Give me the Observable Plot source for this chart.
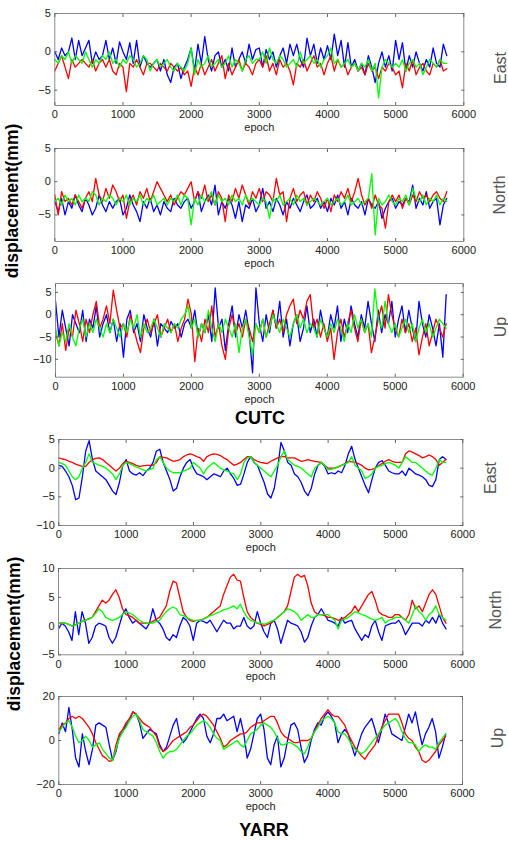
<!DOCTYPE html>
<html><head><meta charset="utf-8">
<script src="https://cdn.jsdelivr.net/npm/d3@7"></script>
<script src="https://cdn.jsdelivr.net/npm/@observablehq/plot@0.6"></script>
<style>
html,body{margin:0;padding:0;background:#fff;}
#root{position:relative;width:508px;height:841px;overflow:hidden;font-family:"Liberation Sans",Arial,sans-serif;}
#root svg{position:absolute;left:0;}
</style></head><body><div id="root"></div>
<script>
// sampling step of all series (epochs): value i is at epoch i*STEP
const STEP = 50;
const xTicks = [0,1000,2000,3000,4000,5000,6000];
const colors = {blue:"#0000ff", red:"#ff0000", green:"#00ff00"};

// ---------- CUTC East ----------
const cutcEastBlue = [
0,-1,0.5,-0.5,0,1.8,-1,1.5,-0.5,0.5,1.5,-1.5,0,-1,-0.5,1.5,-1,0.5,-1.5,1.3,
0,-1,1.2,-1.5,1.5,-2,-0.5,-1.5,-2,-1.5,-1,-2.5,-1,-3,-4,-2,-1.5,-3.5,-2,-1,
0.5,-2.5,1,-1.5,2,-1,-2.5,-0.5,0,-2,-1,-2.5,0.5,-2,-1,0,-1.5,1,-1,0.3,
0.5,-2,0.3,-1,0,-2,-0.5,0.5,-1.5,1,-0.5,1,-1,-2,1.8,-0.5,1,-1.5,0.5,-1,
0.8,-1,2.3,-0.5,1.5,-2,1.2,-2,-1,-2.5,-1.5,-3,-0.5,-2,-4,-1.5,0,-2,-0.5,-2.5,
1.5,-1,1.2,-2.5,-0.5,-2,0,-1.5,-2.5,-1,-2,0.5,-1.5,-2,1,-0.5];
const cutcEastRed = [
-2.5,-1.5,-0.5,-2,-3.5,-1,-2,-1.5,-1,-1.5,-2,-1,-2.5,-1.5,-1,-2,-1,-2.5,-3,-1.5,
-2,-5.2,-1.5,-2,-1,-2,-3,-1.5,-1.5,-2,-2.5,-1.5,-2,-2.5,-1.5,-2,-2.5,-2,-3,-2.5,
-4.5,-2,-3,-1.5,-3,-2,-1,-2.5,-1.5,-0.5,-3.5,-1.5,-3,-2,-1,-2.5,-1.5,-2,-3,-1.5,
-1,-2,-0.5,-2.5,-1.5,-3,-1,-2,-1.5,-2.5,-4.3,-1.5,-2,-1,-2.5,-1.5,-0.5,-2,-1.5,-3,
-1.5,-0.5,-2.5,-1,-2,-1.5,-3,-2,-1.5,-2.5,-2,-3,-1.5,-2.5,-2,-3.5,-2,-2.5,-1.5,-2,
-3,-2.5,-4.7,-1.5,-2.5,-1,-3,-2,-1.5,-2.5,-3,-1.5,-2,-1,-2.5,-2.2];
const cutcEastGreen = [
-1,-1.5,-0.5,-1,0,-1.5,-0.5,-1,-1.5,0,-1,-2,-1,-1.5,-0.5,-1,0,-1.5,-1,-2,
-1,-1.5,-0.5,-1,-2,-1.5,-0.5,-1,-2.5,-1.5,-1,-2,-1.5,-1,-2,-2.5,-1.5,-2,-2.5,-1.5,
0.5,-3,-1,-2,-1.5,-0.5,-2,-1.5,-1,-2,-1.5,-0.5,-2,-1,-1.5,-2.5,-1,-0.5,-1.5,-1,
-1,0,-1.5,0.5,-1,-1.5,-0.5,-1,-2,-1.5,-1,-2,0,-1.5,-1,-0.5,-1.5,-1,-2,-1,
-0.5,0.5,-1.5,-1,-2,-1.5,-1,-2,-1.5,-2.5,-1.5,-2,-1,-2.5,-1.5,-6,-2,-1,-1.5,-2,
-1.5,-2,-1,-2.5,-1.5,-1,-2,-1.5,-3,-2,-1,-1.5,-2,-1,-1.5,-1.5];

// ---------- CUTC North ----------
const cutcNorthBlue = [
-3,-4.5,-2.5,-5,-3,-4,-2,-3.5,-4.5,-2.5,-3.5,-5,-4,-2,-3.5,-4.5,-3,-4,-3,-2.5,
-5,-4,-2,-3.5,-4.5,-6,-3,-4,-2.5,-4.5,-3.5,-5,-3,-4,-4.5,-2.5,-3.5,-4,-3,-2.5,
-4,-3,-1.5,-4.5,-3,-2,-3.5,-0.5,-5,-3,-4,-2.5,-3.5,-5.5,-3,-6,-3.5,-4,-2.5,-4.5,
-3.5,-1,-4,-3,-4.5,-2.5,-3.5,-5,-3,-4,-2.5,-3.5,-4.5,-3,-2,-4,-3.5,-2.5,-4,-3,
-4.5,-2.5,-3.5,-2,-4,-3,-5,-2.5,-3.5,-4,-3,-5,-2.5,-3.5,-4,-3,-5.5,-4,-3,-2.5,
-4,-3,-3.5,-2.5,-3,-0.5,-4,-2.5,-3.5,-1.5,-4,-3,-2.5,-6.5,-3.5,-2.5];
const cutcNorthRed = [
-2,-5,-1.5,-3,-2.5,-3.5,-2,-3,-4,-2.5,-1.5,-3,0.5,-2,-3,-1,-2.5,-0.5,-1.5,-3,
-2,-5.5,-3,-2,-3.5,-1.5,-2.5,-1,-3,-1.5,0,-1,-2,-3,-2,-3.5,-2.5,-1.5,-2,-1,
0,-3,-1.5,-2.5,-0.5,-3,-2,-3.5,-1.5,-2.5,-6,-2,-3,-1,-2.5,-0.5,-2,-3.5,-1.5,-2.5,
-1,-3,-1.5,-2,-3,0.5,-2,-1.5,-6,-2.5,-1,-3,-2,-1.5,-3.5,-2,-3,-1.5,-2.5,-4,
-2.5,-4.5,-2,-3,-1.5,-2.5,-1,-3,-1.5,0.5,-2,-3.5,-2.5,-4,-2,-3.5,-4,-7,-3,-2,
-3,-2,-4,-2.5,-3.5,-2,-3,-1.5,-2.5,-2,-3,-2,-1.5,-2.5,-3,-1.5];
const cutcNorthGreen = [
-3,-2.5,-3.5,-2,-3,-2.5,-3.5,-2,-3,-2.5,-3,-1.5,-2,-3.5,-2.5,-3,-2,-2.5,-3.5,-2.5,
-3,-2,-3.5,-2.5,-3,-2,-3.5,-2.5,-3,-2,-3.5,-3,-2.5,-3.5,-2.5,-3,-2,-3.5,-2,-2.5,
-6.5,-2.5,-3.5,-2,-3,-2.5,-1.5,-3.5,-2,-3,-2.5,-3.5,-2,-3,-2.5,-3.5,-2,-3,-2.5,-3,
-3.5,-2.5,-3,-5.5,-2.5,-3,-2,-3.5,-3,-2.5,-3.5,-2,-3,-2.5,-3.5,-3,-2.5,-3,-3.5,-3,
-2.5,-3.5,-3,-2.5,-3.5,-3,-2,-3.5,-3,-2.5,-3.5,-3,-2.5,1.2,-8,-2.5,-3.5,-3,-2,-3,
-3.5,-2.5,-3,-2,-3.5,-1,-2.5,-3,-2,-3.5,-2.5,-3,-2,-3.5,-2.5,-3];

// ---------- CUTC Up ----------
const cutcUpBlue = [
3,-5,1,-3,-7,0,-2,-4,1,-6,-1,-3,2,-5,-2,0,-4,-1,-6,-2,
-9.5,-1,1,-4,-2,-6,0,-3,-5,-1,-7,-2,-3,-4,-1.5,-3,-2,-5,-2,-1,
-3,1,-5,-2,-4,0,-6,6,-3,-1,-8,-2,2,-5,0,-3,1,-4,-13,6,
-2,-6,0,-4,1,-3,3,-5,-1,-7,-2,0,-6,-3,2,-4,-1,-5,1,-3,
-5,0,-3,2,-6,-1,-4,2,-2,-5,0,-3,3,-2,-6,1,-4,0,-2,3,
-5,-1,2,-4,1,-3,-6,3,-2,-5,0,-3,-7,-2,-9.5,4.5];
const cutcUpRed = [
-4,-7,-2,-8,-3,-5,1,-2,-6,-1,-4,0,3,-3,-1,2,-2,5.5,1,-3,
-2,-5,0,-3,-6,-8.5,-3,-1,-4,-2,0,-5,-3,-1,-4,-2,-6,-3,-1,3.5,
0,-10.5,-3,-6,-1,-4,2,-5,-2,-7,-10,-3,0,-4,-2,-5,-1,-3,-6,-2,
-4,-1,-5,-2,1,-3,-1,-4,0,2,3.5,-2,1,-1,3,4.5,-3,-1,-5,-2,
-6,-3,-10,-4,-1,-5,-2,1,-3,-6,-1,-4,-2,-8.5,-5,-1,2,-3,4.5,0,
-3,-5,-1,-4,-2,-6,-3,-9,-5,-2,-7,-4,-1,-3,-5,-2];
const cutcUpGreen = [
-3,-7,-4,-6,-2,-5,-7,-3,-1,-5,-2,-4,-1,-3,-5,-2,-4,-1,-3,-5,
-2,-4,-1,-3,0,-5,-2,-4,-3,-1,-3,-5,-2,-3,-4,-2,-3,-1,0,2,
-3,-1,-5,-2,-4,1,-3,-6,-2,-4,-1,-3,-5,-2,-8.5,-3,-1,-5,-9,-2,
-4,-1,-5,-3,0,-2,-4,-1,-3,-5,-2,0,-3,-1,-4,-2,-3,-5,-1,-3,
-5,-2,-4,-1,-3,-6,-2,-4,0,-3,-1,-4,-2,-5,5.8,-1,-3,3,-2,-4,
-2,-5,-3,-1,-4,-2,-6,-3,-1,-4,-2,-5,-3,-1,-2,-3];

// ---------- YARR East ----------
const yarrEastBlue = [
0.5,0.3,-0.5,-1.5,-3,-5.5,-5.2,-1.5,3,4.8,1.5,-0.5,-1,-1.5,-2,-3,-4,-4.6,-2.5,0.5,
1.5,-0.5,-1,-1.2,-0.8,-1.3,-0.5,0,1,3,3.3,1,-0.5,-2,-4,-3.5,-1.5,0,1,1.5,
0,-1,-1.2,-1.5,-2,-1.5,-1,-1.2,-1.5,-0.5,0,-1,-1.8,-3,-2.8,-1,1,2,1,0.5,
-1,-2.5,-4.5,-5.2,-3.5,0,4.5,3,1,0.5,-1,-1.5,-2.5,-4,-4.8,-3.5,-1,0.5,1,0.3,
-1,-0.8,-1,-0.5,-0.8,0.5,2.5,3.8,1.5,0,-1.5,-3,-4.3,-2,0,1,1.3,0.5,-0.5,-0.8,
-1,-1,-0.5,-1.3,0,-0.5,-1,-1.2,-1.5,-2,-3,-3.2,-2,1.5,2,1.5];
const yarrEastRed = [
1.8,1.6,1.5,1.2,1,0.7,0.5,0.3,0.3,1,1.5,1.7,1.8,1.5,1,0.5,0,-0.5,0,0.8,
1.2,1,0.8,0.5,0.3,0.4,0.5,0.5,0.5,1,2,1.9,1.8,1.5,1.2,1.3,1.5,2,2.3,2.5,
2.3,2,1.8,1.2,2,2.3,2.5,2.4,2.2,1.8,1.5,1,0.5,0.7,1,1.5,2,2,1.5,1.2,
1,0.9,0.8,1.2,1.5,1.8,2,2,1.8,1.8,1.8,1.5,1.2,1.3,1.5,1.3,1.2,1.1,1,0.5,
0,0,0,0.2,0.5,0.8,1.2,1.1,1,0.8,0.5,0,-0.3,-0.2,0,0.4,0.8,1.2,1.5,1.2,
1,1,1,2.5,3,2.8,2.5,2.2,1.8,2,2.3,2,1.5,0.5,1,1.5];
const yarrEastGreen = [
1,0.8,0.5,-0.5,-1.5,-2,-1.5,0,1,2.5,1,0.8,0.5,0.3,0,-0.5,-1,-2,-1,0.5,
1,0.8,0.5,0.2,0,-0.3,-0.5,-0.2,0,1.5,2,1,0,-0.5,-0.8,-0.8,-0.8,-0.5,-0.3,0,
1,0.5,0,-1,0,0.5,1,0.5,0,-0.3,-0.5,-0.8,-1,-2,-1,1,1.8,2,1,0.5,
0,-0.5,-1,-1.5,-0.5,0.5,2,3,1.5,1,0.5,0.3,0,-0.5,-1,-1.5,0,0.5,1,0.5,
-0.3,-0.2,0,0.3,0.5,0.7,1,2,0.5,0,-0.5,-1.8,-1.5,-1,0,0.3,0.5,0.8,1,0.8,
0.5,0,1,2,1.5,1,1,0.5,0,-0.5,-1,-1.2,0,1.5,1,1];

// ---------- YARR North ----------
const yarrNorthBlue = [
-0.5,0.5,0,-1,-2.5,2.5,-1.5,2.5,0.5,-3,-2,0,0.5,0.3,0,-2,-3,-2,0,2,
3,1.5,0.5,1,0.5,0,-0.5,0.5,3,1,0.5,-0.5,-2,-2.5,-1.5,-2,0,1.5,1,0,
-2.5,0.5,1,0.8,0.5,1,0,-1,0,1,0.5,0.5,-0.5,0,0,1.5,0,-0.5,0,2.5,
0.5,-1,-2,0.5,1,-0.5,-3,-1,1,0.5,0.3,0,-1,-2.8,-2,0,1.5,2,3,2,
1,0.8,0.5,0,1.5,0.5,0.8,1,-0.5,-1.5,-2.5,-1.5,-2,0,1,-1,-2.5,0,0.3,0.5,
0.5,1,0,-1.5,-0.5,0.5,0.5,0.5,0,1,0.5,1.5,0.5,2,0.5,-0.5];
const yarrNorthRed = [
0.5,0.5,0.5,0.3,0,0.2,0.5,0.8,1,1.3,1.5,2.5,3.5,4.5,4,4.5,5.5,6.3,5,3,
2,1.8,1.5,1,0.5,0.5,0.5,0.5,0.8,1.2,1.5,2.5,3.5,6,7.8,7.5,5,2.5,1.5,1,
0.8,1,1,1.2,1.5,2,2.5,3,3.5,5.5,7,8.5,9,8,7.8,5,2.5,1.5,1,0.5,
0.3,0,0.3,0.5,1,1.5,2,2.5,3.5,6,8.5,9,8.5,8.8,7,4,2.5,2,2,1.8,
1.5,1.5,1.3,1,1.2,1.5,2,2.5,3.5,2.5,3.5,4.5,5.5,6,4.5,2.5,2,1.8,1.5,1.5,
2,2,1.5,1,2,4.5,3,3.5,2.5,4,5.5,6.3,5.5,3.5,1.5,0.5];
const yarrNorthGreen = [
0.5,0.5,0.5,0.3,0,0.2,0.5,0.8,1,1.2,1.5,2.2,3,2.5,1.5,1.2,1,1.2,1.5,2,
2.5,2.3,2,1.5,1,0.7,0.5,0.5,0.5,0.8,1,1.8,2.5,3,3.3,3,2,1.8,1.5,1.2,
1,1,1,1.2,1.5,1.8,2,2.3,2.5,2.8,3,3.2,3.5,3,3.8,2.5,1.5,1,0.8,0.5,
0.5,0.3,0.5,0.8,1,1.5,2,2.5,3,2.8,2.5,2,1,1.5,2,1.5,1.5,2,2,2,
2,1.5,1,-0.5,1,1.2,1.5,2,2.5,2.3,2,1.8,1.5,1.2,1,1.2,1.5,0.5,1,1.2,
1.5,1.5,1.5,1,0.5,2,3.5,2.5,2,1,2,2.5,3.5,2,1.5,1];

// ---------- YARR Up ----------
const yarrUpBlue = [
3,8,4,15,5,-8,-12,3,-5,-11,-4,7,8,7,6,-2,-9,-5,2,4,
7,9,13,12,8,1,3,5,4,3,-2,-5,-3,2,7,10,2,-1,1,4,
7,10,12,10,2,-1,3,10,10,12,9,10,11,4,10,3,-8,-4,3,10,
12,5,-8,-11,-2,2,-12,-8,0,7,8,5,-3,-10,-7,0,5,8,7,11,
13,11,8,-1,3,5,3,-2,-7,-2,3,6,8,10,5,-1,5,12,8,3,
2,1,0,6,12,8,13,5,-2,3,6,10,4,-8,-3,3];
const yarrUpRed = [
5,7,8,10,11,10,11,10,8,6,3,-1,-4,-7,-8,-9.5,-9,-2,3,5,
8,10,13,12,10,8,7,6,4,2,-3,-5,-4,-2,0,1,2,3,4,6,
7,9,11,12,11,9,7,4,1,-3,-2,0,1,2,3,3,4,6,7,8,
8,9,10,11,11,8,4,2,1,0,-1,-1,0,0,0,1,4,7,10,12,
14,12,11,11,9,7,3,0,-3,-5,-7,-8.5,-6,-4,-2,2,6,9,12,12,
12,12,8,3,1,0,-3,-5,-9,-10,-9,-7,-5,-2,0,2];
const yarrUpGreen = [
4,6,8,9,6,2,-1,0,2,0,-3,-2,-1,-4,-6,-8,-9,-4,1,4,
6,9,11,12,9,5,4,3,2,-1,-5,-8,-6,-5,-5,-4,-2,0,2,3,
5,7,8,9,8,6,3,1,0,-4,-3,-2,-1,0,-2,-3,0,3,4,5,
7,8,7,6,4,1,-2,-2,-1,-1,-2,-3,-5,-6,-3,1,4,6,9,10,
11,10,8,4,3,3,1,-2,-4,-5,-6,-5,-3,-1,1,3,5,7,8,9,
10,8,4,1,-1,-1,-2,-5,-3,-2,-3,-3,-4,-1,1,3];

const panels = [
  {top:13.3, bottom:105.3, left:54.3, right:463.3, domain:[-7,5],  yTicks:[-5,0,5],
   series:[[cutcEastBlue,"blue"],[cutcEastRed,"red"],[cutcEastGreen,"green"]]},
  {top:148.3, bottom:241.3, left:54.3, right:463.3, domain:[-9,5], yTicks:[-5,0,5],
   series:[[cutcNorthBlue,"blue"],[cutcNorthRed,"red"],[cutcNorthGreen,"green"]]},
  {top:283.3, bottom:377, left:55, right:462.7, domain:[-14,7], yTicks:[-10,-5,0,5],
   series:[[cutcUpBlue,"blue"],[cutcUpRed,"red"],[cutcUpGreen,"green"]]},
  {top:439, bottom:525, left:58.3, right:462.3, domain:[-10,5], yTicks:[-10,-5,0,5],
   series:[[yarrEastBlue,"blue"],[yarrEastRed,"red"],[yarrEastGreen,"green"]]},
  {top:567.7, bottom:654, left:58, right:462.3, domain:[-5,10], yTicks:[-5,0,5,10],
   series:[[yarrNorthBlue,"blue"],[yarrNorthRed,"red"],[yarrNorthGreen,"green"]]},
  {top:696, bottom:784, left:58.3, right:462, domain:[-20,20], yTicks:[-20,0,20],
   series:[[yarrUpBlue,"blue"],[yarrUpRed,"red"],[yarrUpGreen,"green"]]}
];

const root = document.getElementById("root");
const FONT = '"Liberation Sans", Arial, sans-serif';
const fmt = d3.format("d");

for (const p of panels) {
  const mt = 10, mb = 34;
  const chart = Plot.plot({
    width: 508,
    height: (p.bottom - p.top) + mt + mb,
    marginTop: mt, marginBottom: mb,
    marginLeft: p.left, marginRight: 508 - p.right,
    style: {fontFamily: FONT, fontSize: "11px", background: "transparent", color: "#222", overflow: "visible"},
    x: {domain: [0, 6000], label: null},
    y: {domain: p.domain, label: null},
    marks: [
      ...p.series.map(([vals, c]) => Plot.line(vals, {x: (d, i) => i * STEP, y: d => d, stroke: colors[c], strokeWidth: 1.3})),
      Plot.frame({stroke: "#8c8c8c"}),
      Plot.axisX(xTicks, {anchor: "bottom", tickSize: -3, tickPadding: 8, tickFormat: fmt, stroke: "#666", fill: "#222", label: null}),
      Plot.axisX(xTicks, {anchor: "top", tickSize: -3, stroke: "#666", fill: "none", label: null}),
      Plot.axisY(p.yTicks, {anchor: "left", tickSize: -3, tickPadding: 7, tickFormat: fmt, stroke: "#666", fill: "#222", label: null}),
      Plot.axisY(p.yTicks, {anchor: "right", tickSize: -3, stroke: "#666", fill: "none", label: null}),
      Plot.text(["epoch"], {text: d => d, frameAnchor: "bottom", dy: 22, lineAnchor: "middle", fontSize: 11, fill: "#222"})
    ]
  });
  chart.style.top = (p.top - mt) + "px";
  root.appendChild(chart);
}

// static labels overlay
const labels = [
  {t:"East",  x:500, y:68,  size:16, weight:"normal", color:"#555", rot:true},
  {t:"North", x:499, y:195, size:16, weight:"normal", color:"#555", rot:true},
  {t:"Up",    x:500, y:327, size:16, weight:"normal", color:"#555", rot:true},
  {t:"East",  x:490, y:478, size:16, weight:"normal", color:"#555", rot:true},
  {t:"North", x:495, y:610, size:16, weight:"normal", color:"#555", rot:true},
  {t:"Up",    x:497, y:738, size:16, weight:"normal", color:"#555", rot:true},
  {t:"displacement(mm)", x:12, y:201, size:17.5, weight:"bold", color:"#000", rot:true},
  {t:"displacement(mm)", x:14, y:634, size:17.5, weight:"bold", color:"#000", rot:true},
  {t:"CUTC", x:260, y:418, size:18, weight:"bold", color:"#000", rot:false},
  {t:"YARR", x:264, y:830, size:18, weight:"bold", color:"#000", rot:false}
];
const ov = d3.select(root).append("svg")
  .attr("width", 508).attr("height", 841)
  .style("top", "0px").style("pointer-events", "none");
ov.selectAll("text").data(labels).join("text")
  .attr("transform", d => `translate(${d.x},${d.y})` + (d.rot ? " rotate(-90)" : ""))
  .attr("text-anchor", "middle")
  .attr("dominant-baseline", "central")
  .attr("font-family", FONT)
  .attr("font-size", d => d.size)
  .attr("font-weight", d => d.weight)
  .attr("fill", d => d.color)
  .text(d => d.t);
</script>
</body></html>
